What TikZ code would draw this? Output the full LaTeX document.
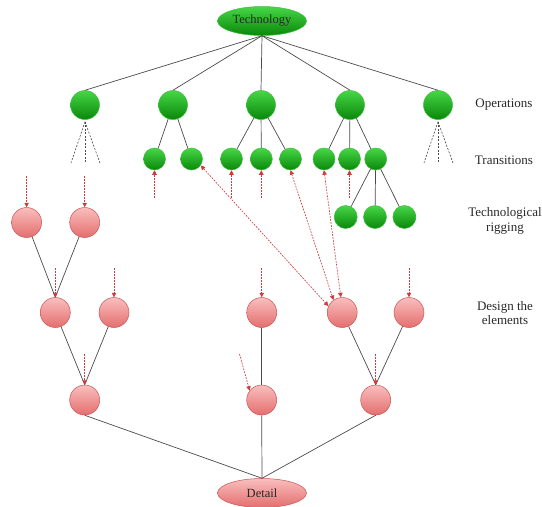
\documentclass[tikz,border=0pt]{standalone}
\usepackage{fontspec}
\setmainfont{Liberation Serif}
\usetikzlibrary{shapes.geometric,arrows.meta}
\definecolor{gtop}{RGB}{70,215,70}
\definecolor{gbot}{RGB}{10,135,10}
\definecolor{gline}{RGB}{60,190,60}
\definecolor{ptop}{RGB}{250,190,190}
\definecolor{pbot}{RGB}{228,110,110}
\definecolor{pline}{RGB}{200,85,85}
\definecolor{edge}{RGB}{75,75,75}
\definecolor{arr}{RGB}{205,60,60}
\definecolor{txt}{RGB}{40,40,40}
\tikzset{
  gnode/.style={circle,draw=gline,line width=0.5pt,top color=gtop,bottom color=gbot,inner sep=0pt},
  opnode/.style={gnode,minimum size=29pt},
  trnode/.style={gnode,minimum size=22pt},
  pnode/.style={circle,draw=pline,line width=0.5pt,top color=ptop,bottom color=pbot,inner sep=0pt,minimum size=30pt},
  gell/.style={ellipse,draw=gline,line width=0.5pt,top color=gtop,bottom color=gbot,minimum width=89pt,minimum height=29pt,inner sep=0pt},
  pell/.style={ellipse,draw=pline,line width=0.5pt,top color=ptop,bottom color=pbot,minimum width=89pt,minimum height=29pt,inner sep=0pt},
  link/.style={draw=edge,line width=0.7pt},
  dlink/.style={draw=edge,line width=0.6pt,dash pattern=on 2pt off 1.5pt},
  rarr/.style={draw=arr,line width=0.65pt,dash pattern=on 1.8pt off 1.2pt,-{Triangle[length=4.5pt,width=4.5pt]}},
  rdarr/.style={draw=arr,line width=0.65pt,dash pattern=on 1.8pt off 1.2pt,{Triangle[length=4.5pt,width=4.5pt]}-{Triangle[length=4.5pt,width=4.5pt]}},
  lbl/.style={font=\fontsize{13}{14.5}\selectfont,text=txt,align=center,inner sep=0pt},
  ttxt/.style={font=\fontsize{12.5}{14}\selectfont,text=txt}
}
\begin{document}
\begin{tikzpicture}[x=1pt,y=-1pt]
\useasboundingbox (0,0) rectangle (542,507);
% top
\node[gell,ttxt] (tech) at (262,21) {Technology};
% operations
\node[opnode] (o1) at (85,105) {};
\node[opnode] (o2) at (173,105) {};
\node[opnode] (o3) at (261,105) {};
\node[opnode] (o4) at (350,105) {};
\node[opnode] (o5) at (438,105) {};
\foreach \o in {o1,o2,o3,o4,o5} \draw[link] (tech.south) -- (\o.north);
% transitions
\node[trnode] (t1) at (154.5,159) {};
\node[trnode] (t2) at (191.5,159) {};
\node[trnode] (t3) at (231.5,159) {};
\node[trnode] (t4) at (261.3,159) {};
\node[trnode] (t5) at (290.5,159) {};
\node[trnode] (t6) at (324,159) {};
\node[trnode] (t7) at (349.5,159) {};
\node[trnode] (t8) at (375.7,159) {};
\draw[link] (o2) -- (t1); \draw[link] (o2) -- (t2);
\draw[link] (o3) -- (t3); \draw[link] (o3) -- (t4); \draw[link] (o3) -- (t5);
\draw[link] (o4) -- (t6); \draw[link] (o4) -- (t7); \draw[link] (o4) -- (t8);
% rigging
\node[trnode,minimum size=23pt] (r1) at (345.7,217) {};
\node[trnode,minimum size=23pt] (r2) at (375,217) {};
\node[trnode,minimum size=23pt] (r3) at (404.4,217) {};
\foreach \r in {r1,r2,r3} \draw[link] (t8) -- (\r);
% dashed fans
\coordinate (f1a) at (71,163); \coordinate (f1b) at (85,163); \coordinate (f1c) at (100,163);
\coordinate (f5a) at (424,163); \coordinate (f5b) at (438,163); \coordinate (f5c) at (453,163);
\foreach \f in {f1a,f1b,f1c} \draw[dlink] ([yshift=-2pt]o1.south) -- (\f);
\foreach \f in {f5a,f5b,f5c} \draw[dlink] ([yshift=-2pt]o5.south) -- (\f);
% pink nodes
\node[pnode] (p1) at (26.6,222.5) {};
\node[pnode] (p2) at (84.7,222.5) {};
\node[pnode] (d1) at (55.3,312.5) {};
\node[pnode] (d2) at (114,312.5) {};
\node[pnode] (d3) at (261.7,312.5) {};
\node[pnode] (d4) at (342.2,312.5) {};
\node[pnode] (d5) at (409,312.5) {};
\node[pnode] (b1) at (84.7,400) {};
\node[pnode] (b2) at (261.7,400) {};
\node[pnode] (b3) at (375.7,400) {};
\node[pell,ttxt] (det) at (262,493) {Detail};
\draw[link] (p1) -- (d1.north); \draw[link] (p2) -- (d1.north);
\draw[link] (d1) -- (b1.north); \draw[link] (d2) -- (b1.north);
\draw[link] (d3) -- (b2);
\draw[link] (d4) -- (b3.north); \draw[link] (d5) -- (b3.north);
\foreach \b in {b1,b2,b3} \draw[link] (\b.south) -- (det.north);
% red arrows into pink nodes
\coordinate (ap1) at (26.6,176); \coordinate (ap2) at (84.7,176);
\draw[rarr] (ap1) -- (p1.north); \draw[rarr] (ap2) -- (p2.north);
\coordinate (ad1) at (55.3,268); \coordinate (ad2) at (114,268);
\coordinate (ad3) at (261.7,268); \coordinate (ad5) at (409,268);
\draw[rarr] (ad1) -- (d1.north); \draw[rarr] (ad2) -- (d2.north);
\draw[rarr] (ad3) -- (d3.north); \draw[rarr] (ad5) -- (d5.north);
\coordinate (ab1) at (84.7,354); \coordinate (ab3) at (375.7,354);
\coordinate (ab2) at (239.5,354);
\draw[rarr] (ab1) -- (b1.north); \draw[rarr] (ab3) -- (b3.north);
\draw[rarr] (ab2) -- (b2.142);
% red arrows into transitions
\coordinate (at1) at (154.5,198); \coordinate (at3) at (231.5,198);
\coordinate (at4) at (261.3,198); \coordinate (at7) at (349.5,198);
\draw[rarr] (at1) -- (t1.south); \draw[rarr] (at3) -- (t3.south);
\draw[rarr] (at4) -- (t4.south); \draw[rarr] (at7) -- (t7.south);
% double arrows
\draw[rdarr] (t2.-35) -- (d4.155);
\draw[rdarr] (t5.south) -- (d4.125);
\draw[rdarr] (t6.south) -- (d4.95);
% labels
\node[lbl] (lop) at (504,105) {Operations};
\node[lbl] (ltr) at (504,160) {Transitions};
\node[lbl] (lrig) at (505,221) {Technological\\rigging};
\node[lbl] (ldes) at (505,313) {Design the\\elements};
\end{tikzpicture}
\end{document}
